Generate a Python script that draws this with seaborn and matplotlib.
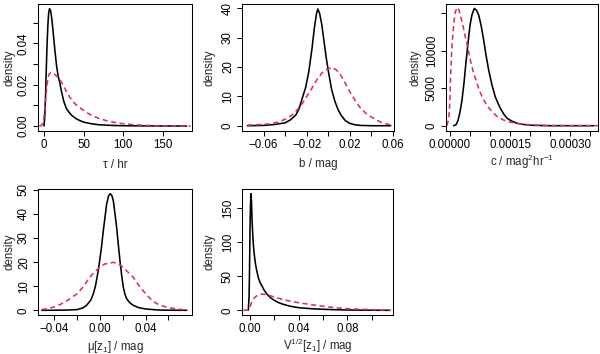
import numpy as np
import pandas as pd
import matplotlib
matplotlib.use("Agg")
import matplotlib.pyplot as plt
import seaborn as sns

# ---------------- data ----------------
tau_x_post = [0, 1, 2, 3, 4, 5, 6, 7, 8, 9, 10, 11, 12, 14, 16, 18, 20, 22, 25, 28, 31, 35, 40, 45, 50,
              60, 70, 85, 100, 130, 180]
tau_y_post = [0, 0.004, 0.014, 0.028, 0.040, 0.049, 0.0548, 0.0567, 0.0563, 0.0545, 0.0515, 0.048, 0.044,
              0.036, 0.029, 0.024, 0.021, 0.017, 0.012, 0.0088, 0.0070, 0.0052, 0.0037, 0.0027, 0.0019,
              0.0011, 0.0006, 0.0003, 0.00015, 0.00005, 0]
tau_x_prior = [-6, -3, -1, 0, 1, 2, 3, 4, 5, 6, 7, 8.5, 10, 12, 14, 17, 20, 24, 28, 32, 36, 40, 45, 50,
               55, 60, 70, 80, 90, 100, 115, 130, 150, 185]
tau_y_prior = [0, 0.0003, 0.002, 0.004, 0.008, 0.012, 0.0165, 0.020, 0.023, 0.0245, 0.0253, 0.0258, 0.0258,
               0.0255, 0.0249, 0.0238, 0.0225, 0.0200, 0.0170, 0.0143, 0.0122, 0.0105, 0.0090, 0.0076,
               0.0063, 0.0052, 0.0036, 0.0025, 0.0017, 0.0011, 0.0006, 0.0003, 0.0001, 0]

b_x_post = [-0.075, -0.06, -0.05, -0.04, -0.035, -0.03, -0.027, -0.024, -0.021, -0.018, -0.015, -0.013,
            -0.011, -0.0097, -0.008, -0.006, -0.004, -0.002, 0, 0.003, 0.006, 0.009, 0.012, 0.016, 0.02,
            0.025, 0.03, 0.04, 0.058]
b_y_post = [0, 0.1, 0.4, 1.0, 2.0, 3.7, 5.8, 9.5, 13, 18.5, 26.5, 33, 38, 39.8, 38.3, 34.5, 29, 23.5, 18.8,
            12.6, 8.5, 5.6, 3.5, 1.7, 0.8, 0.3, 0.1, 0, 0]
b_x_prior = [-0.075, -0.065, -0.055, -0.047, -0.04, -0.034, -0.029, -0.024, -0.02, -0.015, -0.0107, -0.006,
             -0.003, 0.0032, 0.007, 0.011, 0.015, 0.02, 0.025, 0.0295, 0.035, 0.04, 0.045, 0.0496, 0.054,
             0.059]
b_y_prior = [0.2, 0.35, 0.6, 1.2, 2.2, 3.5, 5.3, 7.6, 9.9, 12.9, 15.6, 17.9, 19.0, 19.8, 19.2, 17.6, 15.0,
             11.6, 8.6, 6.2, 4.2, 3.0, 1.9, 1.1, 0.6, 0.2]

c_x_post = [0.9e-5, 1.5e-5, 2.0e-5, 2.5e-5, 3.0e-5, 3.5e-5, 4.0e-5, 4.5e-5, 5.0e-5, 5.5e-5, 6.08e-5, 6.6e-5,
            7.17e-5, 7.8e-5, 8.42e-5, 9.0e-5, 9.67e-5, 10.5e-5, 11.3e-5, 12.0e-5, 12.6e-5, 13.5e-5,
            14.3e-5, 15.5e-5, 16.8e-5, 18.5e-5, 21e-5, 25e-5, 36e-5]
c_y_post = [0, 120, 700, 1800, 3422, 5700, 8500, 11000, 13400, 14800, 15644, 15400, 14756, 13300, 11422,
            9400, 7422, 5400, 3867, 3000, 2311, 1500, 978, 600, 311, 150, 44, 0, 0]
c_x_prior = [-0.75e-5, -0.3e-5, 0, 0.08e-5, 0.3e-5, 0.5e-5, 0.75e-5, 1.0e-5, 1.3e-5, 1.75e-5, 2.2e-5,
             2.58e-5, 3.2e-5, 3.83e-5, 4.5e-5, 5.08e-5, 5.8e-5, 6.75e-5, 7.5e-5, 8.42e-5, 9.5e-5, 10.9e-5,
             12e-5, 13.4e-5, 15e-5, 16.8e-5, 19e-5, 21e-5, 25e-5, 30e-5, 37e-5]
c_y_prior = [0, 1000, 3500, 5644, 8500, 10800, 12311, 13900, 15100, 15778, 15500, 14756, 13400, 11867,
             10300, 8756, 7200, 5644, 4500, 3422, 2500, 1644, 1150, 756, 480, 311, 170, 89, 20, 5, 0]

mu_x_post = [-0.051, -0.03, -0.02, -0.015, -0.0117, -0.008, -0.0058, -0.004, -0.0015, 0.001, 0.0029,
             0.0045, 0.0058, 0.0075, 0.00905, 0.0105, 0.0117, 0.013, 0.0146, 0.016, 0.0175, 0.019, 0.0204,
             0.022, 0.0234, 0.026, 0.029, 0.034, 0.04, 0.052, 0.076]
mu_y_post = [0, 0.1, 0.3, 1.0, 2.1, 4.3, 6.9, 10, 16.5, 25, 33, 39, 44, 47.5, 48.4, 47.5, 45.4, 40.5, 34.4,
             27.5, 20.6, 14.5, 9.6, 6.5, 4.8, 3.2, 2.1, 1.1, 0.55, 0.1, 0]
mu_x_prior = [-0.051, -0.045, -0.04, -0.035, -0.029, -0.025, -0.02, -0.015, -0.0088, -0.004, 0, 0.004,
              0.0117, 0.016, 0.02, 0.025, 0.029, 0.034, 0.04, 0.045, 0.0496, 0.055, 0.06, 0.068, 0.076]
mu_y_prior = [0.3, 0.8, 1.4, 2.4, 3.9, 5.3, 6.9, 9.6, 13.8, 16.3, 17.9, 19.2, 19.9, 19.4, 17.9, 15.6, 13.8,
              10.3, 6.9, 4.4, 2.8, 1.8, 1.1, 0.5, 0.1]

v_x_post = [-0.0014, -0.0008, -0.0005, -0.0002, 0, 0.0004, 0.0008, 0.0012, 0.0016, 0.002, 0.0027, 0.0035,
            0.0045, 0.0055, 0.007, 0.0085, 0.0096, 0.0115, 0.0137, 0.0165, 0.02, 0.0235, 0.0274, 0.033,
            0.04, 0.05, 0.06, 0.07, 0.08, 0.095, 0.115]
v_y_post = [0, 20, 48.8, 90, 122, 155, 171.7, 160, 136.6, 120, 97.6, 82, 68, 58.5, 47, 40, 36.6, 30, 24.4,
            19, 14.6, 11.3, 8.8, 6, 3.9, 2.4, 1.5, 0.9, 0.5, 0.2, 0]
v_x_prior = [-0.0055, -0.0014, 0, 0.0014, 0.0027, 0.0041, 0.006, 0.0082, 0.01, 0.0123, 0.016, 0.02, 0.025,
             0.03, 0.035, 0.04, 0.05, 0.06, 0.07, 0.08, 0.09, 0.1, 0.116]
v_y_prior = [0, 0.5, 5, 12.2, 16.5, 19.5, 22, 23.4, 23.7, 23.4, 21.8, 19.5, 17, 14.6, 12.8, 11.2, 8.4, 5.9,
             3.9, 2.4, 1.6, 1.0, 0]

# tick positions / labels
tau_xticks = [0, 50, 100, 150]
tau_xlabels = ["0", "50", "100", "150"]
tau_yticks = [0, 0.01, 0.02, 0.03, 0.04, 0.05]
tau_ylabels = ["0.00", "", "0.02", "", "0.04", ""]

b_xticks = [-0.06, -0.04, -0.02, 0, 0.02, 0.04, 0.06]
b_xlabels = ["\u22120.06", "", "\u22120.02", "", "0.02", "", "0.06"]
b_yticks = [0, 10, 20, 30, 40]
b_ylabels = ["0", "10", "20", "30", "40"]

c_xticks = [0, 0.00005, 0.0001, 0.00015, 0.0002, 0.00025, 0.0003, 0.00035]
c_xlabels = ["0.00000", "", "", "0.00015", "", "", "0.00030", ""]
c_yticks = [0, 5000, 10000, 15000]
c_ylabels = ["0", "5000", "10000", ""]

mu_xticks = [-0.04, -0.02, 0, 0.02, 0.04, 0.06]
mu_xlabels = ["\u22120.04", "", "0.00", "", "0.04", ""]
mu_yticks = [0, 10, 20, 30, 40, 50]
mu_ylabels = ["0", "10", "20", "30", "40", "50"]

v_xticks = [0, 0.02, 0.04, 0.06, 0.08, 0.10]
v_xlabels = ["0.00", "", "0.04", "", "0.08", ""]
v_yticks = [0, 50, 100, 150]
v_ylabels = ["0", "50", "100", "150"]

# ---------------- style ----------------
sns.set_style("ticks")
plt.rcParams['font.family'] = ['Liberation Sans', 'DejaVu Sans']
plt.rcParams['mathtext.fontset'] = 'custom'
plt.rcParams['mathtext.rm'] = 'Liberation Sans'
plt.rcParams['mathtext.it'] = 'Liberation Sans'
plt.rcParams['mathtext.default'] = 'regular'

FS = 8.3
RED = "#DC3150"
W, H = 600.0, 354.0

fig = plt.figure(figsize=(6.0, 3.54), dpi=100)
fig.patch.set_facecolor("white")

# pixel boxes: (left, top, right, bottom), x-label baseline px, y-label centre px
panels = [
    dict(box=(38, 4, 192, 131), xl_base=168, yl_x=10, post=(tau_x_post, tau_y_post), prior=(tau_x_prior, tau_y_prior),
         xt=tau_xticks, xl=tau_xlabels, yt=tau_yticks, yl=tau_ylabels, xlim=(-7.5, 187), ylim=(-0.0024, 0.059),
         xlabel="\u03c4 / hr"),
    dict(box=(242, 4, 394, 131), xl_base=167, yl_x=210, post=(b_x_post, b_y_post), prior=(b_x_prior, b_y_prior),
         xt=b_xticks, xl=b_xlabels, yt=b_yticks, yl=b_ylabels, xlim=(-0.080, 0.061), ylim=(-1.8, 41.5),
         xlabel="b / mag"),
    dict(box=(446, 4, 598, 131), xl_base=166, yl_x=415, post=(c_x_post, c_y_post), prior=(c_x_prior, c_y_prior),
         xt=c_xticks, xl=c_xlabels, yt=c_yticks, yl=c_ylabels, xlim=(-0.00001, 0.00037), ylim=(-707, 16227),
         xlabel="c / mag$^2$hr$^{-1}$"),
    dict(box=(38, 189, 192, 315), xl_base=350, yl_x=9, post=(mu_x_post, mu_y_post), prior=(mu_x_prior, mu_y_prior),
         xt=mu_xticks, xl=mu_xlabels, yt=mu_yticks, yl=mu_ylabels, xlim=(-0.0543, 0.0806), ylim=(-1.94, 50.34),
         xlabel="\u03bc[z$_1$] / mag"),
    dict(box=(242, 189, 393, 315), xl_base=350, yl_x=210, post=(v_x_post, v_y_post), prior=(v_x_prior, v_y_prior),
         xt=v_xticks, xl=v_xlabels, yt=v_yticks, yl=v_ylabels, xlim=(-0.0066, 0.1176), ylim=(-6.9, 178.6),
         xlabel="V$^{1/2}$[z$_1$] / mag"),
]

for p in panels:
    l, t, r, b = p["box"]
    ax = fig.add_axes([l / W, 1 - b / H, (r - l) / W, (b - t) / H])
    dfp = pd.DataFrame({"x": p["post"][0], "y": p["post"][1]})
    dfr = pd.DataFrame({"x": p["prior"][0], "y": p["prior"][1]})
    sns.lineplot(data=dfp, x="x", y="y", ax=ax, color="black", linewidth=1.15,
                 errorbar=None, sort=False, estimator=None)
    sns.lineplot(data=dfr, x="x", y="y", ax=ax, color=RED, linewidth=1.15,
                 errorbar=None, sort=False, estimator=None)
    ax.lines[-1].set_dashes((3.2, 2.2))
    ax.set_xlim(*p["xlim"])
    ax.set_ylim(*p["ylim"])
    ax.set_xticks(p["xt"])
    ax.set_xticklabels(p["xl"], fontsize=FS)
    ax.set_yticks(p["yt"])
    ax.set_yticklabels(p["yl"], fontsize=FS, rotation=90, va="center")
    ax.tick_params(axis="both", direction="out", length=3.8, width=0.75, color="black", pad=2.0,
                   labelcolor="black")
    for s in ax.spines.values():
        s.set_visible(True)
        s.set_linewidth(0.75)
        s.set_color("black")
    ax.set_xlabel(p["xlabel"], fontsize=FS, va="baseline")
    ax.xaxis.set_label_coords(0.5, (b - p["xl_base"]) / (b - t))
    ax.set_ylabel("density", fontsize=FS, va="center")
    ax.yaxis.set_label_coords((p["yl_x"] - l) / (r - l), 0.5)
    ax.set_facecolor("white")

fig.savefig("out.png", dpi=100, facecolor="white")
